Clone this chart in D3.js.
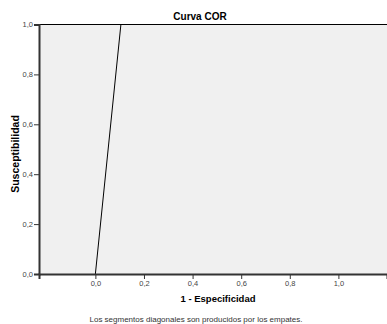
<!DOCTYPE html>
<html>
<head>
<meta charset="utf-8">
<script src="https://cdn.jsdelivr.net/npm/d3@7"></script>
<style>
  body { margin: 0; background: #fff; }
  svg { display: block; font-family: "Liberation Sans", Arial, sans-serif; }
</style>
</head>
<body>
<div id="chart"></div>
<script>
// ROC curve points (1 - especificidad, susceptibilidad)
const fpr = [0, 0.105, 1];
const tpr = [0, 1, 1];
const xTicks = [0, 0.2, 0.4, 0.6, 0.8, 1.0];
const yTicks = [0, 0.2, 0.4, 0.6, 0.8, 1.0];
const title = "Curva COR";
const xLabel = "1 - Especificidad";
const yLabel = "Susceptibilidad";
const note = "Los segmentos diagonales son producidos por los empates.";

const W = 387, H = 324;
const margin = { t: 24.5, r: 0, b: 50, l: 39 };

const fmt = (d) => d3.format(".1f")(d).replace(".", ",");

const svg = d3.select("#chart").append("svg")
  .attr("width", W).attr("height", H)
  .attr("viewBox", [0, 0, W, H]);

const x = d3.scaleLinear().domain([-0.232, 1.2]).range([margin.l, W - margin.r]);
const y = d3.scaleLinear().domain([0, 1]).range([H - margin.b, margin.t]);

// plot background
svg.append("rect")
  .attr("x", x.range()[0]).attr("y", y(1))
  .attr("width", x.range()[1] - x.range()[0])
  .attr("height", y(0) - y(1))
  .attr("fill", "#f0f0f0");

// top frame line
svg.append("line")
  .attr("x1", x.range()[0]).attr("x2", x.range()[1])
  .attr("y1", y(1)).attr("y2", y(1))
  .attr("stroke", "#000").attr("stroke-width", 1);

// curve
const line = d3.line().x((d, i) => x(fpr[i])).y((d, i) => y(tpr[i]));
svg.append("path")
  .datum(fpr)
  .attr("d", line)
  .attr("fill", "none")
  .attr("stroke", "#000")
  .attr("stroke-width", 1);

// axes
const ax = d3.axisBottom(x).tickValues(xTicks).tickFormat(fmt).tickSize(5).tickPadding(2);
const ay = d3.axisLeft(y).tickValues(yTicks).tickFormat(fmt).tickSize(5).tickPadding(1);

svg.append("g")
  .attr("transform", `translate(0,${y(0)})`)
  .call(ax)
  .call((g) => g.select(".domain").attr("stroke", "#333").attr("stroke-width", 2))
  .call((g) => g.selectAll(".tick line").attr("stroke", "#333"))
  .call((g) => g.selectAll(".tick text").attr("fill", "#444").attr("font-size", 7.5)
    .attr("font-family", "Liberation Sans, Arial, sans-serif"));

svg.append("g")
  .attr("transform", `translate(${x.range()[0]},0)`)
  .call(ay)
  .call((g) => g.select(".domain").attr("stroke", "#333").attr("stroke-width", 2))
  .call((g) => g.selectAll(".tick line").attr("stroke", "#333"))
  .call((g) => g.selectAll(".tick text").attr("fill", "#444").attr("font-size", 7.5)
    .attr("font-family", "Liberation Sans, Arial, sans-serif"));

// texts
svg.append("text")
  .attr("x", 200).attr("y", 20)
  .attr("text-anchor", "middle")
  .attr("font-size", 10).attr("font-weight", "bold")
  .text(title);

svg.append("text")
  .attr("x", 218).attr("y", 302)
  .attr("text-anchor", "middle")
  .attr("font-size", 9.5).attr("font-weight", "bold")
  .text(xLabel);

svg.append("text")
  .attr("transform", `translate(19,154) rotate(-90)`)
  .attr("text-anchor", "middle")
  .attr("font-size", 10.5).attr("font-weight", "bold")
  .text(yLabel);

svg.append("text")
  .attr("x", 196).attr("y", 322)
  .attr("text-anchor", "middle")
  .attr("font-size", 8).attr("fill", "#333")
  .text(note);
</script>
</body>
</html>
